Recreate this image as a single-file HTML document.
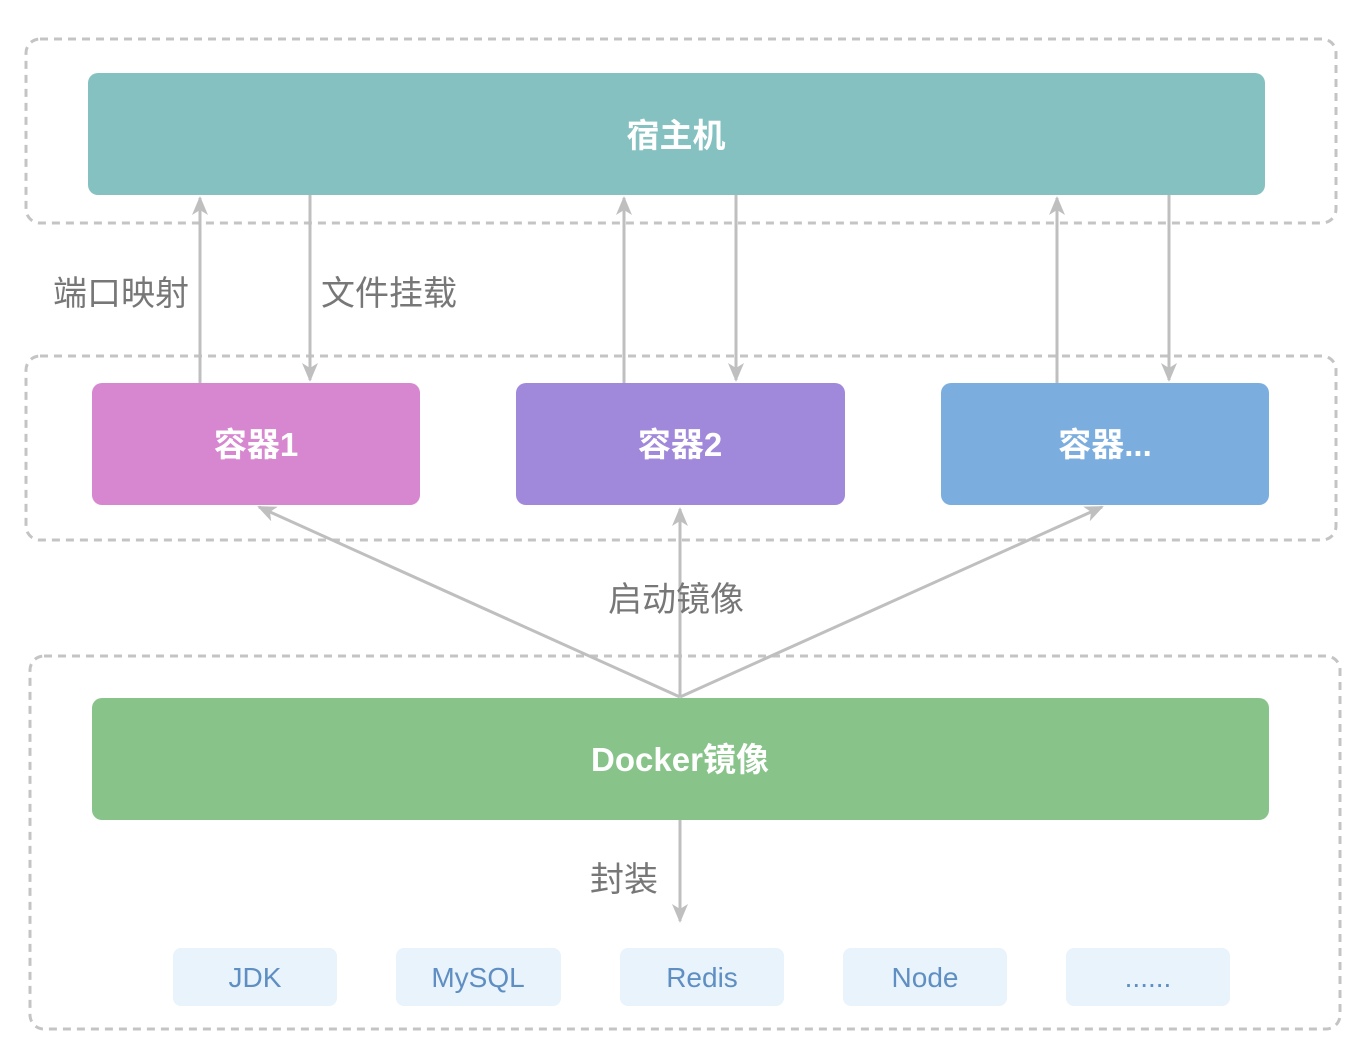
<!DOCTYPE html>
<html><head><meta charset="utf-8"><style>
body{margin:0;background:#fff;}
svg text{font-family:"Liberation Sans","Noto Sans CJK SC",sans-serif;}
</style></head><body>
<svg width="1368" height="1054" viewBox="0 0 1368 1054" xmlns="http://www.w3.org/2000/svg">
<defs>
<marker id="b" markerWidth="22" markerHeight="22" refX="17" refY="11" orient="auto" markerUnits="userSpaceOnUse">
<path d="M0,3 L19,11 L0,19 L5,11 Z" fill="#bfbfbf"/>
</marker>
</defs>
<g fill="none" stroke="#c4c4c4" stroke-width="3" stroke-dasharray="8,6">
<rect x="26" y="39" width="1310" height="184" rx="14"/>
<rect x="26" y="356" width="1310" height="184" rx="14"/>
<rect x="30" y="656" width="1310" height="373" rx="14"/>
</g>
<rect x="88" y="73" width="1177" height="122" rx="10" fill="#85c1c1"/>
<rect x="92" y="383" width="328" height="122" rx="10" fill="#d687cf"/>
<rect x="516" y="383" width="329" height="122" rx="10" fill="#a088da"/>
<rect x="941" y="383" width="328" height="122" rx="10" fill="#7baede"/>
<rect x="92" y="698" width="1177" height="122" rx="10" fill="#88c38a"/>
<g fill="#e8f3fb">
<rect x="173" y="948" width="164" height="58" rx="8"/>
<rect x="396" y="948" width="165" height="58" rx="8"/>
<rect x="620" y="948" width="164" height="58" rx="8"/>
<rect x="843" y="948" width="164" height="58" rx="8"/>
<rect x="1066" y="948" width="164" height="58" rx="8"/>
</g>
<g stroke="#bfbfbf" stroke-width="3" fill="none" marker-end="url(#b)">
<line x1="200" y1="383" x2="200" y2="198"/>
<line x1="310" y1="195" x2="310" y2="380"/>
<line x1="624" y1="383" x2="624" y2="198"/>
<line x1="736" y1="195" x2="736" y2="380"/>
<line x1="1057" y1="383" x2="1057" y2="198"/>
<line x1="1169" y1="195" x2="1169" y2="380"/>
<line x1="680" y1="697" x2="259" y2="507"/>
<line x1="680" y1="697" x2="680" y2="509"/>
<line x1="680" y1="697" x2="1102" y2="507"/>
<line x1="680" y1="820" x2="680" y2="921"/>
</g>
<g fill="#fff" font-weight="bold" font-size="33" text-anchor="middle">
<text x="676" y="147">宿主机</text>
<text x="256" y="456">容器1</text>
<text x="680" y="456">容器2</text>
<text x="1105" y="456">容器...</text>
<text x="680" y="771">Docker镜像</text>
</g>
<g fill="#777" font-size="34" text-anchor="middle">
<text x="121" y="305">端口映射</text>
<text x="389" y="305">文件挂载</text>
<text x="676" y="611">启动镜像</text>
<text x="624" y="891">封装</text>
</g>
<g fill="#5f8fc2" font-size="28" text-anchor="middle">
<text x="255" y="987">JDK</text>
<text x="478" y="987">MySQL</text>
<text x="702" y="987">Redis</text>
<text x="925" y="987">Node</text>
<text x="1148" y="987">......</text>
</g>
</svg>
</body></html>
